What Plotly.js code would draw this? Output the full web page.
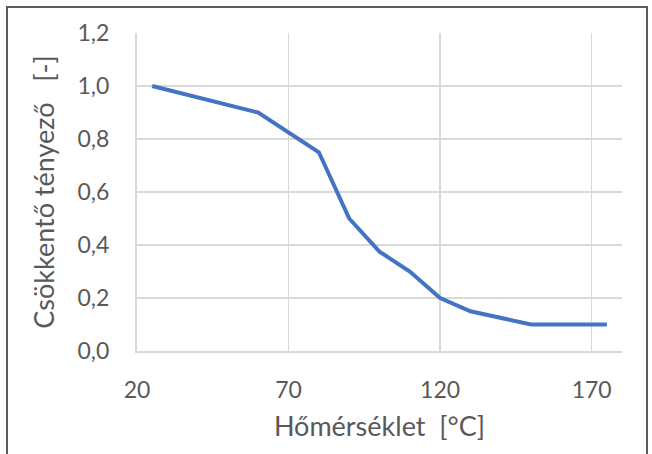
<!DOCTYPE html>
<html>
<head>
<meta charset="utf-8">
<script src="https://cdn.plot.ly/plotly-3.0.1.min.js"></script>
<style>
  html, body { margin: 0; padding: 0; background: #ffffff; }
  #wrap { position: relative; width: 652px; height: 454px; overflow: hidden; }
  #chart { width: 652px; height: 454px; }
  #frame {
    position: absolute; left: 6px; top: 6px; width: 638px; height: 470px;
    border: 2px solid #5a5a5a; pointer-events: none;
  }
</style>
</head>
<body>
<div id="wrap">
  <div id="chart"></div>
  <div id="frame"></div>
</div>
<script>
// Temperature (°C) and the matching reduction factor
const temperatures = [25, 60, 80, 90, 100, 110, 120, 130, 150, 175];
const reductionFactors = [1.0, 0.9, 0.75, 0.5, 0.375, 0.3, 0.2, 0.15, 0.1, 0.1];

const xTickValues = [20, 70, 120, 170];
const yTickValues = [0, 0.2, 0.4, 0.6, 0.8, 1.0, 1.2];

const xTitle = 'Hőmérséklet  [°C]';
const yTitle = 'Csökkentő tényező   [-]';

const textColor = '#595959';
const gridColor = '#d9d9d9';
const fontFamily = 'Lato, "Open Sans", sans-serif';

const trace = {
  x: temperatures,
  y: reductionFactors,
  type: 'scatter',
  mode: 'lines',
  line: { color: '#4472c4', width: 4 },
  hoverinfo: 'skip'
};

const layout = {
  width: 652,
  height: 454,
  margin: { l: 137, r: 30, t: 33, b: 103 },
  paper_bgcolor: '#ffffff',
  plot_bgcolor: '#ffffff',
  separators: ',.',
  showlegend: false,
  font: { family: fontFamily, color: textColor, size: 23 },
  xaxis: {
    range: [20, 180],
    tickvals: xTickValues,
    ticktext: xTickValues.map(String),
    showgrid: true,
    gridcolor: gridColor,
    gridwidth: 1.5,
    showline: true,
    linecolor: gridColor,
    linewidth: 2,
    zeroline: false,
    ticks: 'outside',
    ticklen: 17,
    tickcolor: 'rgba(0,0,0,0)',
    tickfont: { family: fontFamily, color: textColor, size: 23 },
    title: { text: xTitle, font: { family: fontFamily, color: textColor, size: 27 }, standoff: 16 }
  },
  yaxis: {
    range: [0, 1.2],
    tickvals: yTickValues,
    tickformat: '.1f',
    showgrid: true,
    gridcolor: gridColor,
    gridwidth: 1.5,
    showline: true,
    linecolor: gridColor,
    linewidth: 2,
    zeroline: false,
    ticks: 'outside',
    ticklen: 21,
    tickcolor: 'rgba(0,0,0,0)',
    tickfont: { family: fontFamily, color: textColor, size: 23 },
    title: { text: yTitle, font: { family: fontFamily, color: textColor, size: 27 }, standoff: 15 }
  }
};

Plotly.newPlot('chart', [trace], layout, { staticPlot: true, displayModeBar: false });
</script>
</body>
</html>
